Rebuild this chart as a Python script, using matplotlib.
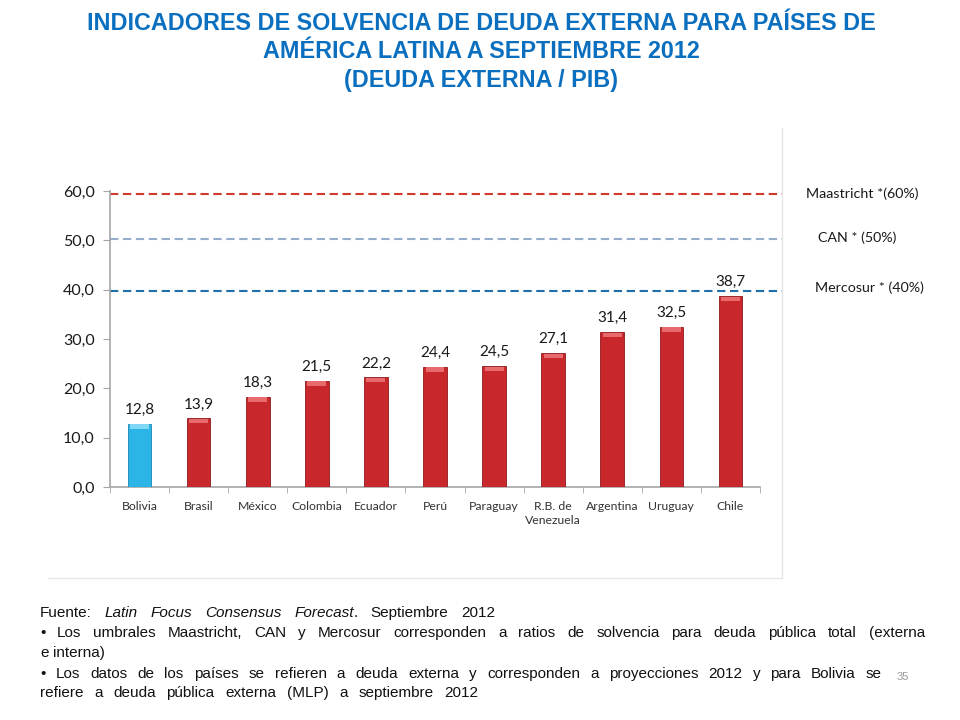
import numpy as np
import matplotlib
matplotlib.use("Agg")
import matplotlib.pyplot as plt
from matplotlib.lines import Line2D

# ---------------- Data ----------------
countries = ["Bolivia", "Brasil", "México", "Colombia", "Ecuador", "Perú",
             "Paraguay", "R.B. de\nVenezuela", "Argentina", "Uruguay", "Chile"]
ratios = [12.8, 13.9, 18.3, 21.5, 22.2, 24.4, 24.5, 27.1, 31.4, 32.5, 38.7]
threshold_names = ["Maastricht *(60%)", "CAN * (50%)", "Mercosur * (40%)"]
threshold_values = [59.4, 50.3, 39.8]
yticks = [0, 10, 20, 30, 40, 50, 60]

TITLE_LINES = ["INDICADORES DE SOLVENCIA DE DEUDA EXTERNA PARA PAÍSES DE",
               "AMÉRICA LATINA A SEPTIEMBRE 2012",
               "(DEUDA EXTERNA / PIB)"]
SOURCE = [("Fuente:", "normal"), ("Latin", "italic"), ("Focus", "italic"),
          ("Consensus", "italic"), ("Forecast", "italic", "."),
          ("Septiembre", "normal"), ("2012", "normal")]
NOTES = [
    "• Los umbrales Maastricht, CAN y Mercosur corresponden a ratios de solvencia para deuda pública total (externa",
    "e interna)",
    "• Los datos de los países se refieren a deuda externa y corresponden a proyecciones 2012 y para Bolivia se",
    "refiere a deuda pública externa (MLP) a septiembre 2012",
]

# ---------------- Style ----------------
BLUE_TITLE = "#0B6FBF"
RED = "#C8272B"
RED_EDGE = "#8E1A1C"
CYAN = "#2BB4E6"
CYAN_EDGE = "#1A86B0"
AXIS = "#A6A6A6"
LINE_COLORS = ["#D0392B", "#94AECB", "#1E6FAA"]
CHART_FONT = ["Lato", "DejaVu Sans"]
TEXT_FONT = ["Liberation Sans", "DejaVu Sans"]
W, H = 960, 720

fig = plt.figure(figsize=(9.6, 7.2), dpi=100, facecolor="white")
renderer = fig.canvas.get_renderer()

def px(xp, yp):
    return xp / W, 1 - yp / H

# title, one text per line
for line, yp in zip(TITLE_LINES, [23, 52, 80]):
    fig.text(*px(481, yp), line, ha="center", va="center", color=BLUE_TITLE,
             fontsize=16.8, fontweight="bold", family=TEXT_FONT)

# faint chart-area frame (bottom and right only)
fig.add_artist(Line2D([48/W, 782/W], [1-578/H, 1-578/H], color="#E6E6E6", lw=1))
fig.add_artist(Line2D([782/W, 782/W], [1-128/H, 1-578/H], color="#E6E6E6", lw=1))

ax = fig.add_axes([110/W, 1-487/H, 650/W, 296/H])
x = np.arange(len(countries))
colors = [CYAN] + [RED] * (len(countries) - 1)
edges = [CYAN_EDGE] + [RED_EDGE] * (len(countries) - 1)
bars = ax.bar(x, ratios, width=0.4, color=colors, edgecolor=edges, linewidth=0.6, zorder=3)
# small bevel highlight on top of each bar
for b, c in zip(bars, colors):
    hl = "#7FD6F5" if c == CYAN else "#E86A6C"
    ax.bar(b.get_x() + b.get_width()/2, 0.9, width=b.get_width()*0.8,
           bottom=b.get_height()-1.0, color=hl, linewidth=0, zorder=4)

for xi, v in zip(x, ratios):
    ax.annotate(f"{v:.1f}".replace(".", ","), (xi, v), xytext=(0, 5),
                textcoords="offset points", ha="center", va="bottom",
                fontsize=11, family=CHART_FONT, color="#1A1A1A")

for val, col in zip(threshold_values, LINE_COLORS):
    ax.axhline(val, xmin=0, xmax=672/650, color=col, lw=1.5, ls=(0, (4, 2.2)),
               clip_on=False, zorder=2)

ax.set_xlim(-0.5, len(countries) - 0.5)
ax.set_ylim(0, 60)
ax.set_yticks(yticks)
ax.set_yticklabels([f"{t:.1f}".replace(".", ",") for t in yticks],
                   fontsize=11.5, family=CHART_FONT, color="#1A1A1A")
ax.set_xticks(x)
ax.set_xticklabels(countries, fontsize=8.8, family=CHART_FONT, color="#333333",
                   linespacing=1.35)
ax.set_xticks(np.arange(-0.5, len(countries)), minor=True)
ax.tick_params(axis="x", which="major", length=0, pad=10)
ax.tick_params(axis="x", which="minor", length=4, color=AXIS, direction="out")
ax.tick_params(axis="y", length=5, color=AXIS, pad=6)
for s in ["top", "right"]:
    ax.spines[s].set_visible(False)
for s in ["left", "bottom"]:
    ax.spines[s].set_color(AXIS)
    ax.spines[s].set_linewidth(1.2)
ax.set_facecolor("none")

# threshold labels on the right
label_pos = [(862, 194), (857, 238), (869, 288)]
for (lx, ly), name in zip(label_pos, threshold_names):
    fig.text(*px(lx, ly), name, ha="center", va="center",
             fontsize=10.3, family=CHART_FONT, color="#1A1A1A")

# footnotes: words placed one by one so each line spans the slide's width
FOOT_SIZE = 11

def word_line(words, x0, yp, right=None, gap=5.0):
    arts, widths = [], []
    for w in words:
        pieces = [(w[0], w[1])] + ([(w[2], "normal")] if len(w) > 2 else [])
        group = []
        for txt, st in pieces:
            t = fig.text(0, 1 - yp / H, txt, ha="left", va="baseline",
                         fontsize=FOOT_SIZE, family=TEXT_FONT, style=st,
                         color="#111111")
            group.append((t, t.get_window_extent(renderer).width))
        arts.append(group)
        widths.append(sum(g[1] for g in group))
    if right is not None:
        gap = (right - x0 - sum(widths)) / max(len(words) - 1, 1)
    cur = x0
    for group in arts:
        for t, wd in group:
            t.set_x(cur / W)
            cur += wd
        cur += gap

word_line(SOURCE, 40, 617, right=495)
for line, yp, right in zip(NOTES, [637, 657, 678, 697], [925, None, 882, 478]):
    word_line([(w, "normal") for w in line.split()], 40, yp, right)

fig.text(*px(903, 677), "35", ha="center", va="center", fontsize=8,
         family=TEXT_FONT, color="#9A9A9A")

fig.savefig("out.png", dpi=100, facecolor="white")
